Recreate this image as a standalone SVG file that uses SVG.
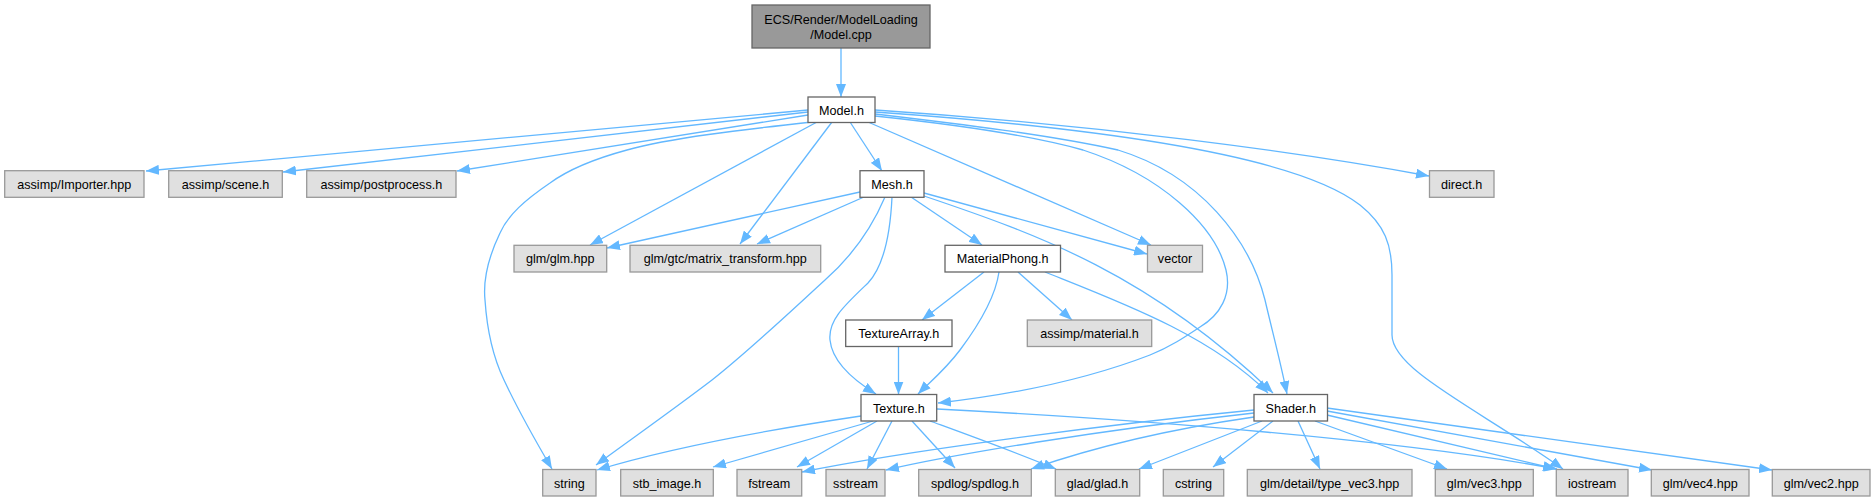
<svg xmlns="http://www.w3.org/2000/svg" width="1876" height="501" viewBox="0 0 1876 501">
<style>
.n rect{stroke-width:1.3}
.ext rect{fill:#e0e0e0;stroke:#999999}
.int rect{fill:#ffffff;stroke:#666666}
.root rect{fill:#999999;stroke:#666666}
text{font-family:"Liberation Sans",Arial,Helvetica,sans-serif;font-size:12.6px;text-anchor:middle;fill:#000}
#edges path{fill:none;stroke:#63b8ff;stroke-width:1.3;marker-end:url(#ah)}
</style>
<defs>
<marker id="ah" viewBox="0 0 13 10" refX="13" refY="5" markerWidth="13" markerHeight="10" markerUnits="userSpaceOnUse" orient="auto">
<path d="M0,0 L13,5 L0,10 z" fill="#63b8ff"/>
</marker>
</defs>
<rect width="1876" height="501" fill="#ffffff"/>
<g id="edges">
<path d="M841,48 L841,97"/>
<path d="M808,110 L146,171"/>
<path d="M808,112 L283,172"/>
<path d="M808,115 L457,171"/>
<path d="M812,122 C740,130 670,138 627,150 C590,160 565,172 550,183 C525,200 508,215 500,233 C488,258 483,280 485,300 C487,330 492,355 504,380 C518,410 535,440 552,469"/>
<path d="M817,122 L590,245"/>
<path d="M832,122 L740,244"/>
<path d="M850,122 L882,171"/>
<path d="M868,122 L1151,245"/>
<path d="M875,116 C960,125 1030,135 1083,150 C1160,175 1215,225 1226,270 C1232,295 1220,315 1200,327 C1185,337 1170,347 1150,355 C1080,382 1000,396 938,403"/>
<path d="M875,114 C960,124 1050,135 1118,150 C1200,175 1250,240 1265,300 C1272,330 1280,360 1287,394"/>
<path d="M875,112 C1060,125 1290,150 1360,205 C1385,225 1392,245 1392,275 L1392,335 C1392,370 1480,410 1563,469"/>
<path d="M875,110 C1100,125 1300,152 1429,176"/>
<path d="M860,192 L607,248"/>
<path d="M864,197 L757,244"/>
<path d="M885,197 C870,232 850,258 825,280 C790,312 750,350 712,380 C670,412 630,440 596,465"/>
<path d="M892,197 C890,240 882,268 868,283 C845,305 828,320 830,340 C832,360 850,378 876,394"/>
<path d="M911,197 L982,245"/>
<path d="M924,193 L1147,254"/>
<path d="M924,196 C1040,235 1150,275 1273,393"/>
<path d="M984,272 L922,320"/>
<path d="M999,272 C995,300 975,330 960,350 C945,370 930,382 918,394"/>
<path d="M1018,272 L1072,320"/>
<path d="M1045,272 C1120,302 1210,335 1268,393"/>
<path d="M898.5,346.5 L898.5,394.5"/>
<path d="M861,416 C780,428 680,445 597,470"/>
<path d="M873,421 L713,467"/>
<path d="M877,421 L797,467"/>
<path d="M892,421 L867,469"/>
<path d="M912,421 L955,468"/>
<path d="M930,421 C960,432 1010,450 1056,469"/>
<path d="M937,409 C1150,420 1400,440 1557,469"/>
<path d="M1254,410 C1100,425 900,452 802,472"/>
<path d="M1254,413 C1100,430 950,455 886,470"/>
<path d="M1254,417 C1150,432 1080,452 1031,469"/>
<path d="M1262,421 L1139,469"/>
<path d="M1273,421 L1213,467"/>
<path d="M1298,421 L1320,469"/>
<path d="M1315,421 L1447,469"/>
<path d="M1327,415 L1556,469"/>
<path d="M1327,411 L1652,470"/>
<path d="M1327,408 L1772,470"/>
</g>
<g id="n_model_cpp" class="n root"><rect x="752" y="5" width="178" height="43"/><text x="841" y="23.5">ECS/Render/ModelLoading</text><text x="841" y="38.5">/Model.cpp</text></g>
<g id="n_model_h" class="n int"><rect x="808" y="97" width="67" height="25.5"/><text x="841.5" y="114.5">Model.h</text></g>
<g id="n_importer" class="n ext"><rect x="4.7" y="170.7" width="139.3" height="26.6"/><text x="74.3" y="188.7">assimp/Importer.hpp</text></g>
<g id="n_scene" class="n ext"><rect x="168.7" y="170.7" width="113.6" height="26.6"/><text x="225.5" y="188.7">assimp/scene.h</text></g>
<g id="n_postprocess" class="n ext"><rect x="306.7" y="170.7" width="149.3" height="26.6"/><text x="381.3" y="188.7">assimp/postprocess.h</text></g>
<g id="n_mesh" class="n int"><rect x="860" y="170.7" width="64" height="26.6"/><text x="892" y="188.7">Mesh.h</text></g>
<g id="n_direct" class="n ext"><rect x="1429.5" y="170.7" width="64.5" height="26.6"/><text x="1461.7" y="188.7">direct.h</text></g>
<g id="n_glm" class="n ext"><rect x="514" y="245.3" width="92.7" height="26.7"/><text x="560.3" y="263.3">glm/glm.hpp</text></g>
<g id="n_matrix" class="n ext"><rect x="630" y="245.3" width="190.7" height="26.7"/><text x="725.3" y="263.3">glm/gtc/matrix_transform.hpp</text></g>
<g id="n_material_phong" class="n int"><rect x="945" y="245.3" width="115.5" height="26.7"/><text x="1002.7" y="263.3">MaterialPhong.h</text></g>
<g id="n_vector" class="n ext"><rect x="1147.5" y="245.3" width="55" height="26.7"/><text x="1175" y="263.3">vector</text></g>
<g id="n_texture_array" class="n int"><rect x="845.7" y="320" width="106.3" height="26.5"/><text x="898.8" y="338">TextureArray.h</text></g>
<g id="n_material" class="n ext"><rect x="1027.3" y="320" width="124.4" height="26.5"/><text x="1089.5" y="338">assimp/material.h</text></g>
<g id="n_texture" class="n int"><rect x="861" y="394.5" width="75.7" height="26.5"/><text x="898.8" y="412.5">Texture.h</text></g>
<g id="n_shader" class="n int"><rect x="1254" y="394.5" width="73.5" height="26.5"/><text x="1290.7" y="412.5">Shader.h</text></g>
<g id="n_string" class="n ext"><rect x="542.7" y="469.5" width="53.3" height="26.5"/><text x="569.3" y="487.5">string</text></g>
<g id="n_stb" class="n ext"><rect x="620.7" y="469.5" width="92.6" height="26.5"/><text x="667" y="487.5">stb_image.h</text></g>
<g id="n_fstream" class="n ext"><rect x="737" y="469.5" width="64.7" height="26.5"/><text x="769.3" y="487.5">fstream</text></g>
<g id="n_sstream" class="n ext"><rect x="826" y="469.5" width="59" height="26.5"/><text x="855.5" y="487.5">sstream</text></g>
<g id="n_spdlog" class="n ext"><rect x="918.7" y="469.5" width="112.6" height="26.5"/><text x="975" y="487.5">spdlog/spdlog.h</text></g>
<g id="n_glad" class="n ext"><rect x="1055.3" y="469.5" width="84.4" height="26.5"/><text x="1097.5" y="487.5">glad/glad.h</text></g>
<g id="n_cstring" class="n ext"><rect x="1163.3" y="469.5" width="60.4" height="26.5"/><text x="1193.5" y="487.5">cstring</text></g>
<g id="n_type_vec3" class="n ext"><rect x="1247.3" y="469.5" width="164.7" height="26.5"/><text x="1329.7" y="487.5">glm/detail/type_vec3.hpp</text></g>
<g id="n_vec3" class="n ext"><rect x="1435.3" y="469.5" width="98" height="26.5"/><text x="1484.3" y="487.5">glm/vec3.hpp</text></g>
<g id="n_iostream" class="n ext"><rect x="1556.3" y="469.5" width="71.7" height="26.5"/><text x="1592.2" y="487.5">iostream</text></g>
<g id="n_vec4" class="n ext"><rect x="1651.3" y="469.5" width="97.7" height="26.5"/><text x="1700.2" y="487.5">glm/vec4.hpp</text></g>
<g id="n_vec2" class="n ext"><rect x="1772.3" y="469.5" width="97.7" height="26.5"/><text x="1821.2" y="487.5">glm/vec2.hpp</text></g>
</svg>
